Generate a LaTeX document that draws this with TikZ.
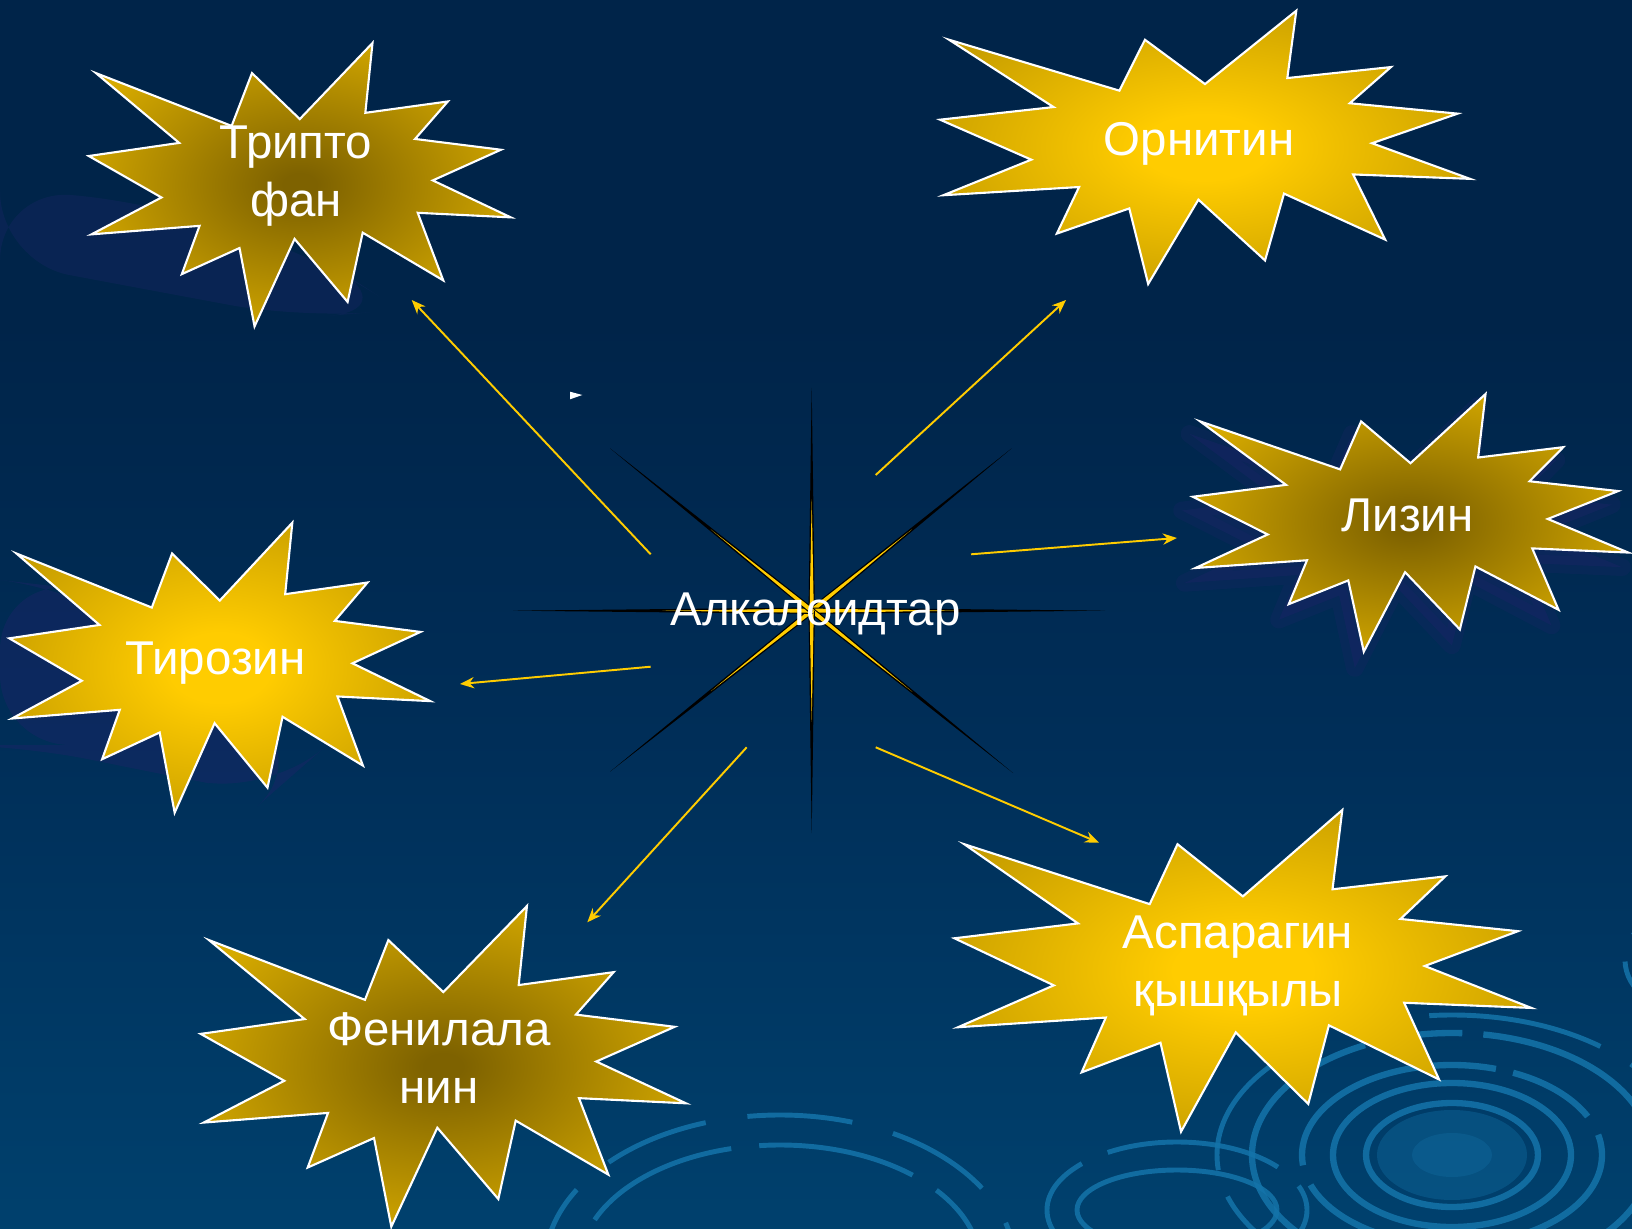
\documentclass[tikz,border=0pt]{standalone}
\usepackage{fontspec}
\setmainfont{Liberation Sans}
\usepackage{tikz}
\usetikzlibrary{arrows.meta}
\usetikzlibrary{calc}
\usepackage{xcolor}

\definecolor{bgtop}{RGB}{0,36,73}
\definecolor{bgmid}{RGB}{0,46,88}
\definecolor{bgbot}{RGB}{0,88,136}
\definecolor{streak}{RGB}{28,36,104}
\definecolor{ringblue}{RGB}{20,116,170}
\definecolor{gold}{RGB}{255,204,0}
\definecolor{golddark}{RGB}{126,98,0}
\definecolor{goldedge}{RGB}{214,170,0}
\definecolor{goldbrown}{RGB}{146,114,0}

\pgfdeclareverticalshading{slidebg}{100bp}{color(0bp)=(bgbot); color(45bp)=(bgmid); color(62bp)=(bgtop); color(100bp)=(bgtop)}
\pgfdeclareradialshading{burstdark}{\pgfpoint{0bp}{0bp}}{color(0bp)=(golddark); color(2bp)=(golddark); color(28bp)=(goldedge); color(70bp)=(goldedge)}
\pgfdeclareradialshading{burstlight}{\pgfpoint{0bp}{0bp}}{color(0bp)=(gold); color(6bp)=(gold); color(50bp)=(goldbrown); color(70bp)=(goldbrown)}

\newcommand{\burstpath}{(0.5,0.2685) -- (0.6723,0) -- (0.6553,0.2465) -- (0.8509,0.2063) -- (0.7732,0.3387) -- (0.9767,0.3767) -- (0.8151,0.4850) -- (1,0.6153) -- (0.7795,0.5992) -- (0.8400,0.8377) -- (0.6491,0.6693) -- (0.6133,0.9138) -- (0.4876,0.6914) -- (0.3928,1) -- (0.3572,0.7235) -- (0.2205,0.8156) -- (0.2624,0.6452) -- (0.00625,0.6753) -- (0.1723,0.5451) -- (0,0.3988) -- (0.2142,0.3526) -- (0.0171,0.1063) -- (0.3385,0.2926) -- (0.3867,0.1063) -- cycle}
\newcommand{\burst}[5]{\shade[shading=#5, draw=white, line width=0.6pt, shift={(#1,#2)}, xscale=#3, yscale=#4] \burstpath;}

\tikzset{
  label/.style={text=white, font=\fontsize{13.5}{16.5}\selectfont, align=center, inner sep=0pt},
  link/.style={draw=gold, line width=0.55pt, -{Stealth[length=4pt,width=3.2pt]}},
  ripple/.style={draw=ringblue, opacity=0.85, line width=1.8pt}
}

\begin{document}
\begin{tikzpicture}[x=0.1mm, y=-0.1mm]
  \useasboundingbox (0,0) rectangle (1632,1229);
  \clip (0,0) rectangle (1632,1229);
  \shade[shading=slidebg] (0,0) rectangle (1632,1229);

  % background streaks
  \fill[streak, opacity=0.35, rounded corners=20] (0,190) -- (140,200) -- (320,258) -- (400,310) -- (300,318) -- (160,292) -- (0,262) -- cycle;
  \fill[streak, opacity=0.45, rounded corners=20] (0,580) -- (70,588) -- (160,640) -- (310,760) -- (270,795) -- (140,770) -- (20,745) -- (0,745) -- cycle;
  \fill[streak, opacity=0.4, shift={(1182,406)}, xscale=440, yscale=262] \burstpath;
  \draw[streak, opacity=0.25, line width=5pt, line join=round, shift={(1182,406)}, xscale=440, yscale=262] \burstpath;

  % ripples
  \coordinate (rc) at (1452,1155);
  \fill[ringblue, opacity=0.35] (rc) ellipse[x radius=75, y radius=45];
  \fill[ringblue, opacity=0.3] (rc) ellipse[x radius=40, y radius=22];
  \draw[ripple] (rc) ellipse[x radius=86, y radius=52];
  \draw[ripple] (rc) ellipse[x radius=119, y radius=72];
  \draw[ripple, dash pattern=on 70pt off 5pt on 25pt off 6pt] (rc) ellipse[x radius=150, y radius=90];
  \draw[ripple, dash pattern=on 80pt off 8pt on 20pt off 6pt] (rc) ellipse[x radius=200, y radius=122];
  \draw[ripple, line width=1.4pt, dash pattern=on 50pt off 10pt on 15pt off 8pt] (rc) ellipse[x radius=235, y radius=140];
  \coordinate (rc2) at (1177,1210);
  \draw[ripple, line width=1.4pt] (rc2) ellipse[x radius=100, y radius=40];
  \draw[ripple, line width=1.4pt, dash pattern=on 50pt off 8pt] (rc2) ellipse[x radius=130, y radius=68];
  \coordinate (rc3) at (780,1265);
  \draw[ripple, line width=1.4pt, dash pattern=on 45pt off 8pt] (rc3) ellipse[x radius=200, y radius=120];
  \draw[ripple, line width=1.4pt, dash pattern=on 30pt off 12pt] (rc3) ellipse[x radius=235, y radius=150];
  \coordinate (rc4) at (1700,960);
  \draw[ripple, line width=1.4pt, dash pattern=on 25pt off 8pt] (rc4) ellipse[x radius=75, y radius=55];

  % central star
  \coordinate (ctr) at (811.7,610.7);
  \coordinate (rn) at (811.7,388);
  \coordinate (rs) at (811.7,833);
  \coordinate (rw) at (513,610.7);
  \coordinate (re) at (1105,610.7);
  \coordinate (rnw) at (610,448.3);
  \coordinate (rne) at (1011.7,448.3);
  \coordinate (rsw) at (610,771.7);
  \coordinate (rse) at (1013,773);
  \foreach \tip in {rn,rne,re,rse,rs,rsw,rw,rnw}{
    \fill[black] ($(ctr)!0.9pt!90:(\tip)$) -- (\tip) -- ($(ctr)!0.9pt!-90:(\tip)$) -- cycle;
    \fill[gold] ($(ctr)!0.6pt!90:(\tip)$) -- ($(ctr)!0.5!(\tip)$) -- ($(ctr)!0.6pt!-90:(\tip)$) -- cycle;
  }
  \fill[white] (570,391.7) -- (582.3,395) -- (570,399.3) -- cycle;

  % bursts
  \burst{88.8}{43}{422}{283.4}{burstdark}
  \burst{940}{10.7}{530}{273.3}{burstlight}
  \burst{1192.7}{394}{435.6}{257.7}{burstdark}
  \burst{9.3}{522.7}{421}{290}{burstlight}
  \burst{200.7}{906}{485.3}{320.7}{burstdark}
  \burst{954.4}{810}{577}{321.7}{burstlight}

  \node[label] (tripto) at (296,176) {Трипто\\фан};
  \node[label, anchor=base] (ornitin) at (1199,156) {Орнитин};
  \node[label, anchor=base] (lizin) at (1407.5,531.7) {Лизин};
  \node[label, anchor=base] (tirozin) at (215.5,674) {Тирозин};
  \node[label] (fenil) at (439,1058) {Фенилала\\нин};
  \node[label] (aspar) at (1238,966) {Аспарагин\\қышқылы};
  \node[label, anchor=base] (alk) at (815.5,625) {Алкалоидтар};

  % arrows
  \coordinate (tripto-s) at (650.7,554.3);
  \coordinate (tripto-e) at (411.7,300);
  \coordinate (ornitin-s) at (875.7,475);
  \coordinate (ornitin-e) at (1066,300);
  \coordinate (lizin-s) at (971,554.3);
  \coordinate (lizin-e) at (1177,538);
  \coordinate (tirozin-s) at (650.7,666.7);
  \coordinate (tirozin-e) at (460,684);
  \coordinate (fenil-s) at (746.7,747.3);
  \coordinate (fenil-e) at (587.3,922.3);
  \coordinate (aspar-s) at (875.7,747.3);
  \coordinate (aspar-e) at (1099,842.7);
  \foreach \n in {tripto,ornitin,lizin,tirozin,fenil,aspar}
    \draw[link] (\n-s) -- (\n-e);
\end{tikzpicture}
\end{document}
